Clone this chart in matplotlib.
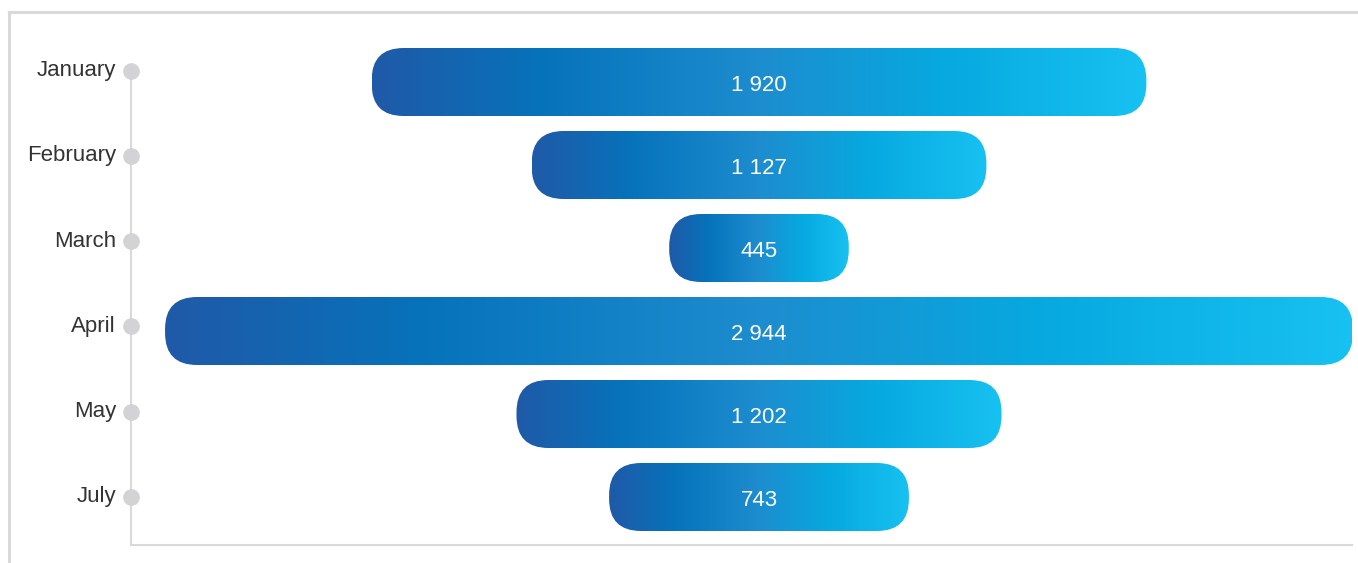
import matplotlib

matplotlib.use("Agg")

import matplotlib.pyplot as plt
import numpy as np
from matplotlib.colors import LinearSegmentedColormap
from matplotlib.lines import Line2D
from matplotlib.patches import FancyBboxPatch

months = ["January", "February", "March", "April", "May", "July"]
values = [1920, 1127, 445, 2944, 1202, 743]
value_labels = ["1 920", "1 127", "445", "2 944", "1 202", "743"]

W, H, DPI = 1358, 563, 100
plt.rcParams["font.family"] = ["Liberation Sans", "DejaVu Sans"]

bar_cmap = LinearSegmentedColormap.from_list(
    "funnel",
    [(0.0, "#1f5aa8"), (0.22, "#0673bb"), (0.5, "#1d8dcf"), (0.74, "#07a9e0"), (1.0, "#17c1f1")],
)

fig = plt.figure(figsize=(W / DPI, H / DPI), dpi=DPI)

# axes box in pixels: x 131..1352, y 32..545 (top-down)
ax_l, ax_r, ax_t, ax_b = 131, 1352, 32, 545
ax = fig.add_axes([ax_l / W, (H - ax_b) / H, (ax_r - ax_l) / W, (ax_b - ax_t) / H])

row_px = 83.0
first_row_px = 82.0
px_per_unit = 0.4035
center_px = 759.0

x_min = (ax_l - center_px) / px_per_unit
x_max = (ax_r - center_px) / px_per_unit
y_top = (ax_t - first_row_px) / row_px
y_bot = (ax_b - first_row_px) / row_px
ax.set_xlim(x_min, x_max)
ax.set_ylim(y_bot, y_top)
ax.axis("off")

bar_h = 68 / row_px
radius_px = 32
units_x = 1 / px_per_unit
units_y = 1 / row_px
aspect = units_y / units_x

grad = np.linspace(0, 1, 256).reshape(1, -1)

for i, (v, lab) in enumerate(zip(values, value_labels)):
    left = -v / 2
    patch = FancyBboxPatch(
        (left, i - bar_h / 2), v, bar_h,
        boxstyle=f"round,pad=0,rounding_size={radius_px * units_x}",
        mutation_aspect=aspect, facecolor="none", edgecolor="none",
    )
    ax.add_patch(patch)
    im = ax.imshow(
        grad, cmap=bar_cmap, aspect="auto", interpolation="bilinear",
        extent=(left, left + v, i + bar_h / 2, i - bar_h / 2), zorder=2,
    )
    im.set_clip_path(patch)
    ax.text(0, i + 0.04, lab, color="white", fontsize=16,
            ha="center", va="center", zorder=3)

# month markers sit on their own spacing along the left axis line
dot_first_px = 70.7
dot_step_px = 85.2
dot_y = [(dot_first_px + k * dot_step_px - first_row_px) / row_px for k in range(len(months))]

ax.plot([x_min, x_min], [dot_y[0], y_bot], color="#d9d9d9", lw=1.5, zorder=1, clip_on=False)
ax.plot([x_min, x_max], [y_bot, y_bot], color="#d9d9d9", lw=1.5, zorder=1, clip_on=False)
ax.plot([x_min] * len(months), dot_y, "o", color="#d3d3d6", ms=11, zorder=4, clip_on=False)
for y, m in zip(dot_y, months):
    ax.text(x_min - 15 * units_x, y, m, color="#333333", fontsize=16,
            ha="right", va="center")

# outer panel frame
fig.add_artist(Line2D([9 / W, 9 / W], [0, (H - 12) / H], color="#d9d9d9", lw=2.2))
fig.add_artist(Line2D([9 / W, 1], [(H - 12) / H, (H - 12) / H], color="#d9d9d9", lw=2.2))

fig.savefig("out.png", dpi=DPI)
plt.close(fig)
